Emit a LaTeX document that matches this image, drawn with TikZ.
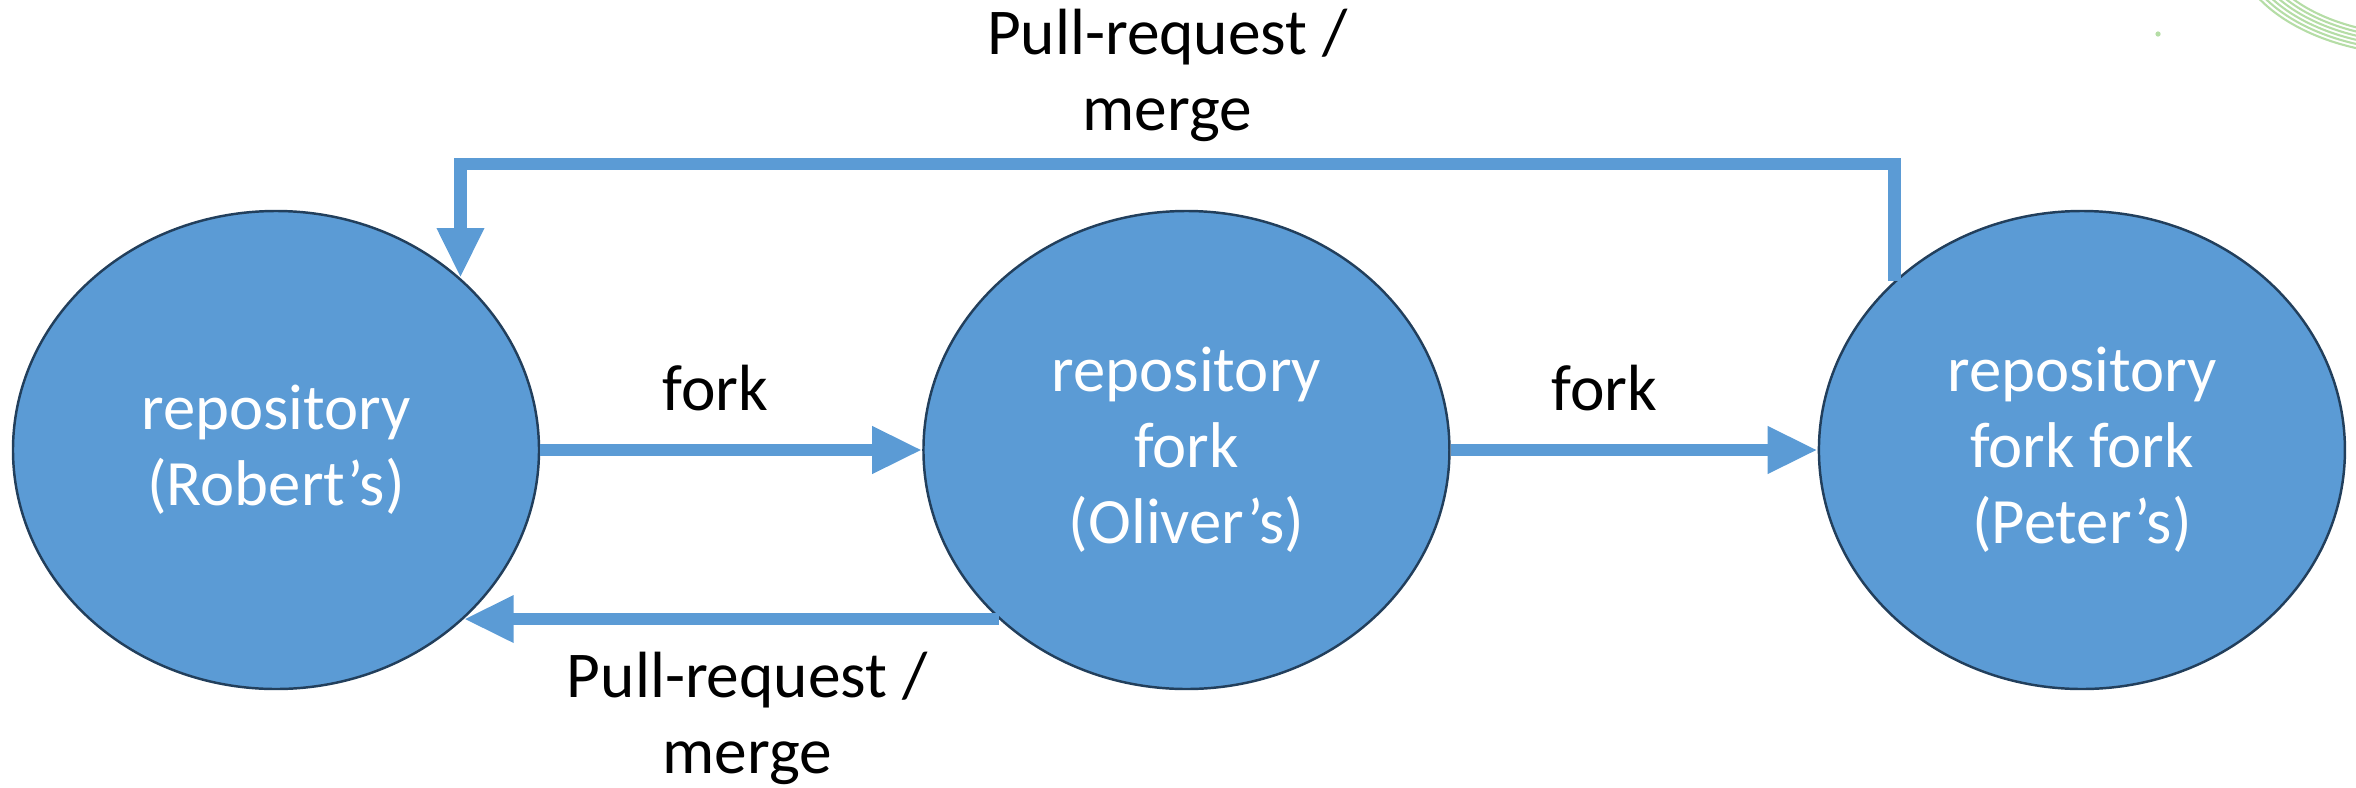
\documentclass[tikz,border=0pt]{standalone}
\usepackage{fontspec}
\setmainfont{Carlito}
\usepackage{tikz}
\usetikzlibrary{arrows.meta,positioning,shapes.geometric}
\definecolor{officeblue}{HTML}{5B9BD5}
\definecolor{rim}{HTML}{223F5C}
\definecolor{leaf}{HTML}{B5DDA6}
\tikzset{
  >={Triangle[length=5mm,width=4.4mm]},
  repo/.style={ellipse,draw=rim,line width=0.7pt,fill=officeblue,text=white,align=center,
    minimum width=52.6mm,minimum height=47.8mm,inner sep=0pt,font=\fontsize{18.4}{21.6}\selectfont,
    execute at begin node={\rule{0pt}{17.6pt}}},
  link/.style={->,draw=officeblue,line width=3.6pt},
  tag/.style={align=center,font=\fontsize{18.6}{21.6}\selectfont}
}

\begin{document}
\begin{tikzpicture}
  \useasboundingbox (0,0) rectangle (23.56,7.87);
  % faint swirl in the corner
  \begin{scope}
    \clip (0,0) rectangle (23.56,7.87);
    \foreach \r in {0,...,5}
      \draw[leaf,line width=0.6pt] (24.2,8.47) ellipse ({1.62+0.05*\r} and {0.95+0.04*\r});
  \end{scope}
  \node[circle,fill=leaf,inner sep=0pt,minimum size=1.5pt] (speck) at (21.58,7.53) {};

  \node[repo] (robert) at (2.76,3.37) {repository\\(Robert’s)};
  \node[repo,right=38.2mm of robert] (oliver) {repository\\fork\\(Oliver’s)};
  \node[repo,right=36.7mm of oliver] (peter) {repository\\fork fork\\(Peter’s)};
  \coordinate (rail) at (0,6.23);

  \draw[link] (robert.east) -- node[tag,above=2.1mm,xshift=-1.6mm] {fork} (oliver.west);
  \draw[link] (oliver.east) -- node[tag,above=2.1mm,xshift=-3mm] {fork} (peter.west);
  \draw[link] (oliver.222) -- node[tag,below=1.5mm,xshift=1.6mm] {Pull-request /\\merge} (robert.318);
  \draw[link] (peter.138) -- (peter.138 |- rail)
    -- node[tag,above=0.4mm,xshift=-1mm] {Pull-request /\\merge} (robert.43 |- rail) -- (robert.43);
\end{tikzpicture}
\end{document}
